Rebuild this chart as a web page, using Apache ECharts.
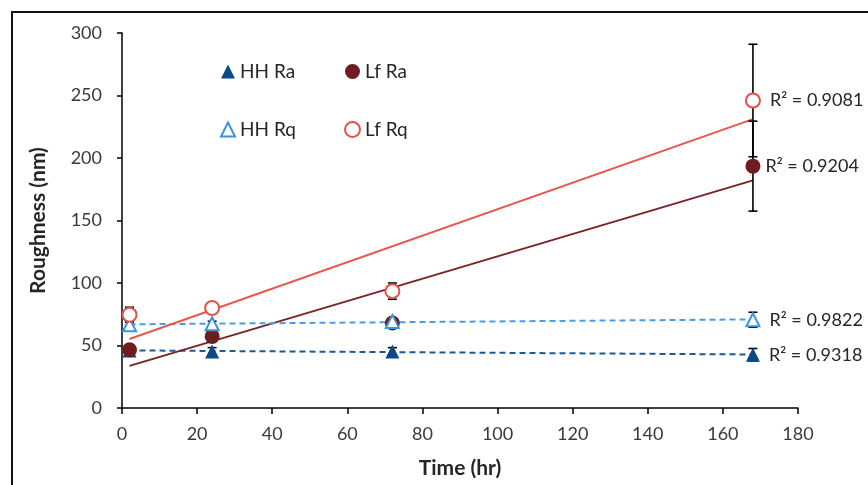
<!DOCTYPE html>
<html><head><meta charset="utf-8">
<script src="https://cdn.jsdelivr.net/npm/echarts@6/dist/echarts.min.js"></script>
<style>html,body{margin:0;padding:0;background:#fff}#c{width:868px;height:485px}</style>
</head><body><div id="c"></div>
<script>
const times = [2, 24, 72, 168];
const hhRa = [46, 45.3, 45.3, 42.6];
const hhRaErr = [2, 3, 3, 5];
const lfRa = [46.6, 57.3, 68, 193.5];
const lfRaErr = [3, 4, 3, 36];
const hhRq = [66.6, 67.4, 69.3, 70.6];
const hhRqErr = [3, 2, 2, 6];
const lfRq = [74.6, 80, 93.5, 246];
const lfRqErr = [6, 3, 6.5, 45];
const r2Labels = ['R\u00b2 = 0.9318', 'R\u00b2 = 0.9204', 'R\u00b2 = 0.9822', 'R\u00b2 = 0.9081'];
const xTicks = [0, 20, 40, 60, 80, 100, 120, 140, 160, 180];
const yTicks = [0, 50, 100, 150, 200, 250, 300];

const FONT = 'Lato';
const chart = echarts.init(document.getElementById('c'), null, {renderer: 'canvas'});

function fit(ys) {
  const n = times.length;
  const mx = times.reduce((a, b) => a + b, 0) / n;
  const my = ys.reduce((a, b) => a + b, 0) / n;
  let sxy = 0, sxx = 0;
  for (let i = 0; i < n; i++) { sxy += (times[i] - mx) * (ys[i] - my); sxx += (times[i] - mx) ** 2; }
  const b = sxy / sxx, a = my - b * mx;
  const t0 = times[0], t1 = times[n - 1];
  return [[t0, a + b * t0], [t1, a + b * t1]];
}

const defs = [
  {name: 'HH Ra', ys: hhRa, err: hhRaErr, symbol: 'triangle', size: 14, fill: '#0b4a86', stroke: '#0b4a86', line: '#1c5a96', dashed: true, r2: r2Labels[0], dist: 9},
  {name: 'Lf Ra', ys: lfRa, err: lfRaErr, symbol: 'circle', size: 15, fill: '#6e1c1f', stroke: '#6e1c1f', line: '#7a2428', dashed: false, r2: r2Labels[1], dist: 5},
  {name: 'HH Rq', ys: hhRq, err: hhRqErr, symbol: 'triangle', size: 13, fill: '#ffffff', stroke: '#3b94dc', line: '#4a9de2', dashed: true, r2: r2Labels[2], dist: 9},
  {name: 'Lf Rq', ys: lfRq, err: lfRqErr, symbol: 'circle', size: 14, fill: '#ffffff', stroke: '#e2524c', line: '#ea5550', dashed: false, r2: r2Labels[3], dist: 9}
];

const series = [];
defs.forEach(d => {
  series.push({
    type: 'line', name: d.name + ' trend', data: fit(d.ys), showSymbol: false, symbol: 'none',
    lineStyle: {color: d.line, width: 2, type: d.dashed ? [6, 4] : 'solid'}, z: 2, silent: true, legendHoverLink: false
  });
});
defs.forEach(d => {
  series.push({
    type: 'custom', name: d.name + ' err', z: 3, silent: true,
    data: times.map((t, i) => [t, d.ys[i] - d.err[i], d.ys[i] + d.err[i]]),
    renderItem: function (params, api) {
      const lo = api.coord([api.value(0), api.value(1)]);
      const hi = api.coord([api.value(0), api.value(2)]);
      const w = 4.5;
      const st = {stroke: '#000', lineWidth: 1.6};
      return {type: 'group', children: [
        {type: 'line', shape: {x1: lo[0], y1: lo[1], x2: hi[0], y2: hi[1]}, style: st},
        {type: 'line', shape: {x1: lo[0] - w, y1: lo[1], x2: lo[0] + w, y2: lo[1]}, style: st},
        {type: 'line', shape: {x1: hi[0] - w, y1: hi[1], x2: hi[0] + w, y2: hi[1]}, style: st}
      ]};
    }
  });
});
defs.forEach((d, k) => {
  series.push({
    type: 'scatter', name: d.name, symbol: d.symbol, symbolSize: d.size, z: 5 + k,
    itemStyle: {color: d.fill, borderColor: d.stroke, borderWidth: d.fill === '#ffffff' ? 2 : 0, opacity: 1},
    data: times.map((t, i) => {
      const o = {value: [t, d.ys[i]]};
      if (i === times.length - 1) {
        o.label = {show: true, position: 'right', distance: d.dist, formatter: d.r2,
          fontFamily: FONT, fontSize: 18, color: '#262626'};
      }
      return o;
    })
  });
});

const legendText = {fontFamily: FONT, fontSize: 19, color: '#262626'};
const option = {
  animation: false,
  backgroundColor: '#ffffff',
  graphic: [{type: 'rect', shape: {x: 12, y: 12, width: 1000, height: 1000}, style: {fill: 'none', stroke: '#111', lineWidth: 2}, z: -1}],
  grid: {left: 122, right: 70, top: 33, bottom: 77, containLabel: false},
  legend: [
    {data: [{name: 'HH Ra'}, {name: 'HH Rq'}], orient: 'vertical', left: 215, top: 57, itemGap: 39, itemWidth: 14, itemHeight: 14, textStyle: legendText, selectedMode: false},
    {data: [{name: 'Lf Ra'}, {name: 'Lf Rq'}], orient: 'vertical', left: 339, top: 57, itemGap: 39, itemWidth: 15, itemHeight: 15, textStyle: legendText, selectedMode: false}
  ],
  xAxis: {
    type: 'value', min: xTicks[0], max: xTicks[xTicks.length - 1], interval: 20,
    name: 'Time (hr)', nameLocation: 'middle', nameGap: 50,
    nameTextStyle: {fontFamily: FONT, fontSize: 21, fontWeight: 'bold', color: '#262626'},
    axisLine: {onZero: false, lineStyle: {color: '#000', width: 1.5}},
    axisTick: {show: true, inside: false, length: 6, lineStyle: {color: '#000', width: 1.5}},
    axisLabel: {fontFamily: FONT, fontSize: 18, color: '#3a3a3a', margin: 17},
    splitLine: {show: false}
  },
  yAxis: {
    type: 'value', min: yTicks[0], max: yTicks[yTicks.length - 1], interval: 50,
    name: 'Roughness (nm)', nameLocation: 'middle', nameGap: 73, nameRotate: 90,
    nameTextStyle: {fontFamily: FONT, fontSize: 21, fontWeight: 'bold', color: '#262626'},
    axisLine: {show: true, lineStyle: {color: '#000', width: 1.5}},
    axisTick: {show: true, inside: false, length: 5, lineStyle: {color: '#000', width: 1.5}},
    axisLabel: {fontFamily: FONT, fontSize: 18, color: '#3a3a3a', margin: 20},
    splitLine: {show: false}
  },
  series: series
};
chart.setOption(option);
</script></body></html>
